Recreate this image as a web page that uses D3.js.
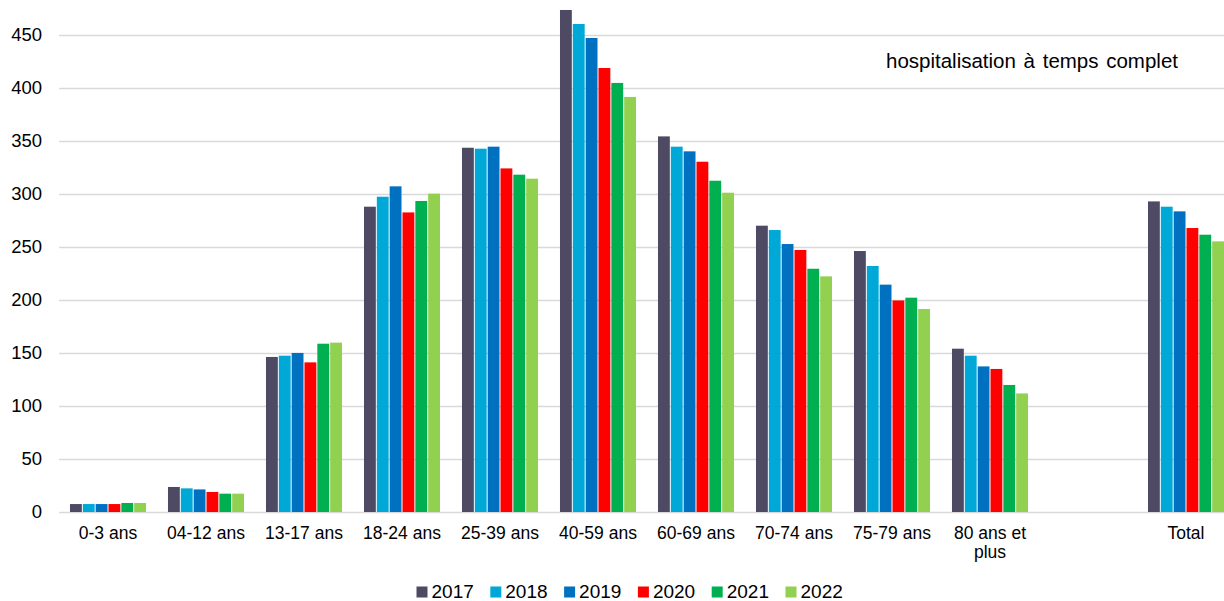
<!DOCTYPE html>
<html>
<head>
<meta charset="utf-8">
<script src="https://cdn.jsdelivr.net/npm/d3@7"></script>
<style>
  html, body { margin: 0; padding: 0; background: #fff; }
  svg text { font-family: "Liberation Sans", Arial, sans-serif; fill: #000; }
</style>
</head>
<body>
<svg id="chart" width="1224" height="601"></svg>
<script>
// Age groups (the blank slot separates the age groups from the total)
const ageGroups = ["0-3 ans", "04-12 ans", "13-17 ans", "18-24 ans", "25-39 ans", "40-59 ans",
                   "60-69 ans", "70-74 ans", "75-79 ans", "80 ans et plus", " ", "Total"];
const years = ["2017", "2018", "2019", "2020", "2021", "2022"];
const yearColors = ["#4f4a63", "#00a8d8", "#0070c0", "#ff0000", "#00b050", "#92d050"];

// Rates per year, one array per year, in the order of ageGroups
const v2017 = [7.5, 23.6, 146.2, 287.9, 343.5, 473.4, 354.2, 270.0, 246.1, 154.0, null, 292.9];
const v2018 = [7.5, 22.3, 147.4, 297.3, 342.6, 460.2, 344.5, 265.9, 232.0, 147.4, null, 287.9];
const v2019 = [7.5, 21.3, 150.0, 307.1, 344.5, 447.0, 340.1, 252.7, 214.4, 137.3, null, 283.5];
const v2020 = [7.5, 18.9, 141.1, 282.5, 324.0, 418.7, 330.3, 247.1, 199.5, 134.9, null, 267.8];
const v2021 = [8.5, 17.3, 158.7, 293.3, 318.1, 404.6, 312.4, 229.4, 202.1, 119.8, null, 261.5];
const v2022 = [8.5, 17.3, 159.7, 300.2, 314.3, 391.4, 301.1, 222.2, 191.4, 111.8, null, 255.2];
const seriesValues = [v2017, v2018, v2019, v2020, v2021, v2022];

const yTicks = [0, 50, 100, 150, 200, 250, 300, 350, 400, 450];
const chartTitle = "hospitalisation à temps complet";

const svg = d3.select("#chart");
const plot = { left: 59, right: 1235, top: 0, bottom: 512 };

const x0 = d3.scaleBand()
  .domain(ageGroups)
  .range([plot.left, plot.right])
  .paddingInner(0.214)
  .paddingOuter(0.107);

const x1 = d3.scaleBand()
  .domain(years)
  .range([0, x0.bandwidth()])
  .padding(0);

const y = d3.scaleLinear()
  .domain([0, 450])
  .range([plot.bottom, 34.8]);

const color = d3.scaleOrdinal().domain(years).range(yearColors);

// Horizontal gridlines
svg.append("g")
  .selectAll("line")
  .data(yTicks)
  .join("line")
  .attr("x1", plot.left)
  .attr("x2", 1224)
  .attr("y1", d => Math.round(y(d)) + 0.5)
  .attr("y2", d => Math.round(y(d)) + 0.5)
  .attr("stroke", "#d9d9d9")
  .attr("stroke-width", 1.3);

// Y axis labels
const yAxis = d3.axisLeft(y).tickValues(yTicks).tickSize(0).tickPadding(0);
const gy = svg.append("g")
  .attr("transform", "translate(42,0)")
  .call(yAxis);
gy.select(".domain").remove();
gy.selectAll("text")
  .attr("font-size", "18.5px")
  .attr("font-family", "Liberation Sans, Arial, sans-serif")
  .attr("fill", "#000");

// Bars
const rows = ageGroups.map((g, i) => ({
  group: g,
  values: years.map((yr, k) => ({ year: yr, value: seriesValues[k][i] }))
}));

svg.append("g")
  .selectAll("g")
  .data(rows)
  .join("g")
  .attr("transform", d => `translate(${x0(d.group)},0)`)
  .selectAll("rect")
  .data(d => d.values.filter(v => v.value != null))
  .join("rect")
  .attr("x", d => x1(d.year) + 0.5)
  .attr("width", x1.bandwidth() - 1)
  .attr("y", d => y(d.value))
  .attr("height", d => y(0) - y(d.value))
  .attr("fill", d => color(d.year));

// X axis labels, wrapped on two lines when too wide
const xAxis = d3.axisBottom(x0).tickSize(0).tickPadding(0);
const gx = svg.append("g")
  .attr("transform", `translate(0,${plot.bottom})`)
  .call(xAxis);
gx.select(".domain").remove();
gx.selectAll("text")
  .attr("font-size", "17.5px")
  .attr("font-family", "Liberation Sans, Arial, sans-serif")
  .attr("fill", "#000")
  .attr("dy", null)
  .attr("y", 27)
  .each(function(d) {
    const t = d3.select(this);
    const words = d.split(" ");
    const maxW = 92;
    t.text(null);
    let line = [];
    let lineNo = 0;
    let tspan = t.append("tspan").attr("x", 0).attr("y", 27);
    words.forEach(w => {
      line.push(w);
      tspan.text(line.join(" "));
      if (tspan.node().getComputedTextLength() > maxW && line.length > 1) {
        line.pop();
        tspan.text(line.join(" "));
        line = [w];
        lineNo++;
        tspan = t.append("tspan").attr("x", 0).attr("y", 27 + lineNo * 19).text(w);
      }
    });
  });

// Title inside the plot
svg.append("text")
  .attr("x", 1178)
  .attr("y", 68)
  .attr("text-anchor", "end")
  .attr("font-size", "20.5px")
  .attr("word-spacing", "2px")
  .text(chartTitle);

// Legend
const legendStart = 416.5;
const legendStep = 73.8;
const legend = svg.append("g")
  .selectAll("g")
  .data(years)
  .join("g")
  .attr("transform", (d, i) => `translate(${legendStart + i * legendStep},586.5)`);
legend.append("rect")
  .attr("width", 11)
  .attr("height", 11)
  .attr("fill", d => color(d));
legend.append("text")
  .attr("x", 15)
  .attr("y", 11.5)
  .attr("font-size", "19px")
  .text(d => d);
</script>
</body>
</html>
